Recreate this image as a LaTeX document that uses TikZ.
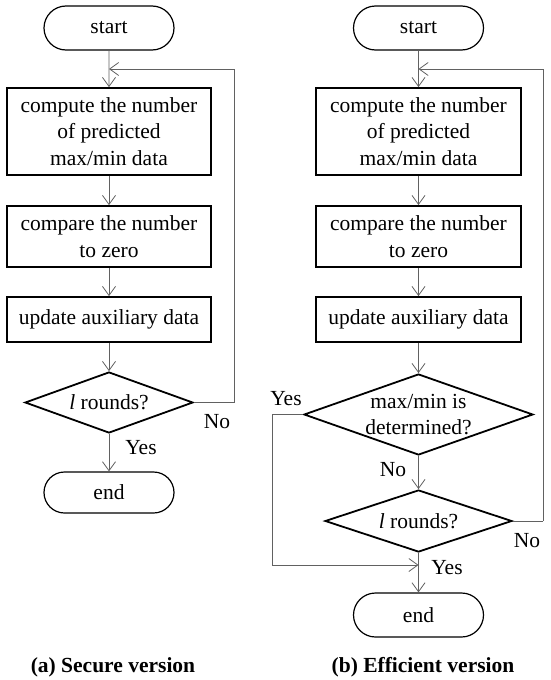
\documentclass[tikz,border=0pt]{standalone}
\usepackage{fontspec}
\setmainfont{Liberation Serif}
\usetikzlibrary{shapes.geometric,shapes.misc,arrows.meta}
\begin{document}
\begin{tikzpicture}[x=1pt,y=-1pt,
  every node/.style={font=\fontsize{21.5}{26.5}\selectfont},
  term/.style={draw=black, line width=1.2pt, rounded rectangle, minimum width=130pt, inner sep=0pt},
  proc/.style={draw=black, line width=1.8pt, rectangle, minimum width=204pt, inner sep=0pt, align=center},
  dec/.style={draw=black, line width=1.8pt, diamond, inner sep=0pt},
  lbl/.style={inner sep=0pt},
  conn/.style={draw=black!62, line width=0.8pt, -{Straight Barb[length=9pt,width=13pt]}},
  wire/.style={draw=black!62, line width=0.8pt},
  captext/.style={font=\fontsize{21.5}{26}\selectfont\bfseries, inner sep=0pt}]
\useasboundingbox (0,0) rectangle (550,680);
% ---------- left chart ----------
\node[term, minimum height=44pt] (s1) at (109,28) {start};
\node[proc, minimum height=87pt] (a1) at (109,131.5) {compute the number\\of predicted\\max/min data};
\node[proc, minimum height=61pt] (a2) at (109,236.5) {compare the number\\to zero};
\node[proc, minimum height=45pt] (a3) at (109,319.5) {update auxiliary data};
\node[dec, minimum width=168pt, minimum height=61pt] (ad) at (109,402.5) {};
\node[lbl] (adt) at (109,402.5) {\textit{l} rounds?};
\node[term, minimum height=41pt] (e1) at (109,492.5) {end};
\coordinate (j1) at (109,69);
\coordinate (k1) at (234,402.5);
\draw[conn] (s1) -- (a1);
\draw[conn] (a1) -- (a2);
\draw[conn] (a2) -- (a3);
\draw[conn] (a3) -- (ad);
\draw[conn] (ad) -- (e1);
\draw[wire] (ad.east) -- (k1);
\draw[conn] (k1) |- (j1);
\node[lbl] (n1) at (217,422) {No};
\node[lbl] (y1) at (141,448) {Yes};
\node[captext] (capa) at (113,667) {(a) Secure version};
% ---------- right chart ----------
\node[term, minimum height=44pt] (s2) at (418.5,28) {start};
\node[proc, minimum width=205pt, minimum height=87pt] (b1) at (418.5,131.5) {compute the number\\of predicted\\max/min data};
\node[proc, minimum width=205pt, minimum height=61pt] (b2) at (418.5,236.5) {compare the number\\to zero};
\node[proc, minimum width=205pt, minimum height=45pt] (b3) at (418.5,319.5) {update auxiliary data};
\node[dec, minimum width=229pt, minimum height=81pt] (bd1) at (418.5,414.5) {};
\node[lbl, align=center] (bd1t) at (418.5,414.5) {max/min is\\determined?};
\node[dec, minimum width=187pt, minimum height=62pt] (bd2) at (418.5,521) {};
\node[lbl] (bd2t) at (418.5,521) {\textit{l} rounds?};
\node[term, minimum height=44pt] (e2) at (418.5,615) {end};
\coordinate (j2) at (418.5,69);
\coordinate (k2) at (543,521);
\coordinate (j3) at (418.5,565);
\coordinate (k3) at (272,414.5);
\draw[conn] (s2) -- (b1);
\draw[conn] (b1) -- (b2);
\draw[conn] (b2) -- (b3);
\draw[conn] (b3) -- (bd1);
\draw[conn] (bd1) -- (bd2);
\draw[conn] (bd2) -- (e2);
\draw[wire] (bd2.east) -- (k2);
\draw[conn] (k2) |- (j2);
\draw[wire] (bd1.west) -- (k3);
\draw[conn] (k3) |- (j3);
\node[lbl] (y2) at (286,399) {Yes};
\node[lbl] (n2) at (393,470) {No};
\node[lbl] (n3) at (527,541) {No};
\node[lbl] (y3) at (447,568) {Yes};
\node[captext] (capb) at (423,667) {(b) Efficient version};
\end{tikzpicture}
\end{document}
